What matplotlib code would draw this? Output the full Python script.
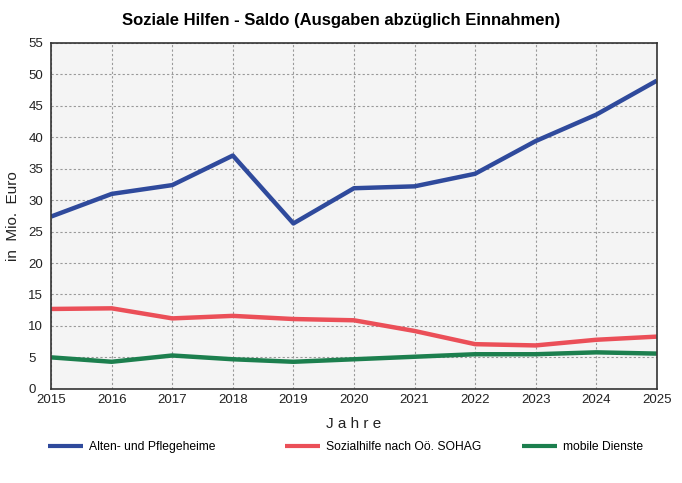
import matplotlib
matplotlib.use("Agg")
import matplotlib.pyplot as plt

years = [2015, 2016, 2017, 2018, 2019, 2020, 2021, 2022, 2023, 2024, 2025]
alten = [27.4, 31.0, 32.4, 37.1, 26.3, 31.9, 32.2, 34.2, 39.4, 43.6, 49.0]
sozial = [12.7, 12.8, 11.2, 11.6, 11.1, 10.9, 9.2, 7.1, 6.9, 7.8, 8.3]
mobile = [5.0, 4.3, 5.3, 4.7, 4.3, 4.7, 5.1, 5.5, 5.5, 5.8, 5.6]
labels = ["Alten- und Pflegeheime", "Sozialhilfe nach Oö. SOHAG", "mobile Dienste"]
colors = ["#2F4A9C", "#EB4F58", "#1C7F4E"]
yticks = list(range(0, 56, 5))

plt.rcParams['font.family'] = ['Liberation Sans', 'DejaVu Sans']

fig = plt.figure(figsize=(6.82, 4.83), dpi=100)
ax = fig.add_axes([0.075, 0.195, 0.888, 0.716])
ax.set_facecolor("#F4F4F4")

lines = []
for vals, lab, c in zip([alten, sozial, mobile], labels, colors):
    ln, = ax.plot(years, vals, color=c, lw=3.2, label=lab, solid_capstyle='butt')
    lines.append(ln)

ax.set_xlim(2015, 2025)
ax.set_ylim(0, 55)
ax.set_xticks(years)
ax.set_yticks(yticks)
ax.tick_params(axis='x', length=0, labelsize=9.5, pad=4, colors="#222222")
ax.tick_params(axis='y', length=0, labelsize=9.5, pad=16.5, colors="#222222")
for t in ax.get_yticklabels():
    t.set_horizontalalignment('left')
ax.grid(True, linestyle=(0, (2, 2)), color="#999999", lw=0.8)
ax.set_axisbelow(True)
for s in ax.spines.values():
    s.set_color("#333333")
    s.set_linewidth(1.2)

ax.set_xlabel("J a h r e", fontsize=11, labelpad=8, color="#222222")
ax.set_ylabel("in  Mio.  Euro", fontsize=11, labelpad=6, color="#222222")
fig.suptitle("Soziale Hilfen - Saldo (Ausgaben abzüglich Einnahmen)",
             fontsize=12, fontweight='bold', y=0.958, va='center')

for ln, lab, xpos in zip(lines, labels, [0.0704, 0.418, 0.765]):
    leg = fig.legend([ln], [lab], loc='center left', bbox_to_anchor=(xpos, 0.0745),
                     frameon=False, fontsize=8.7, handlelength=2.9,
                     handletextpad=0.5, borderpad=0, borderaxespad=0)
    for h in leg.legend_handles:
        h.set_linewidth(3)

fig.savefig("out.png", dpi=100)
